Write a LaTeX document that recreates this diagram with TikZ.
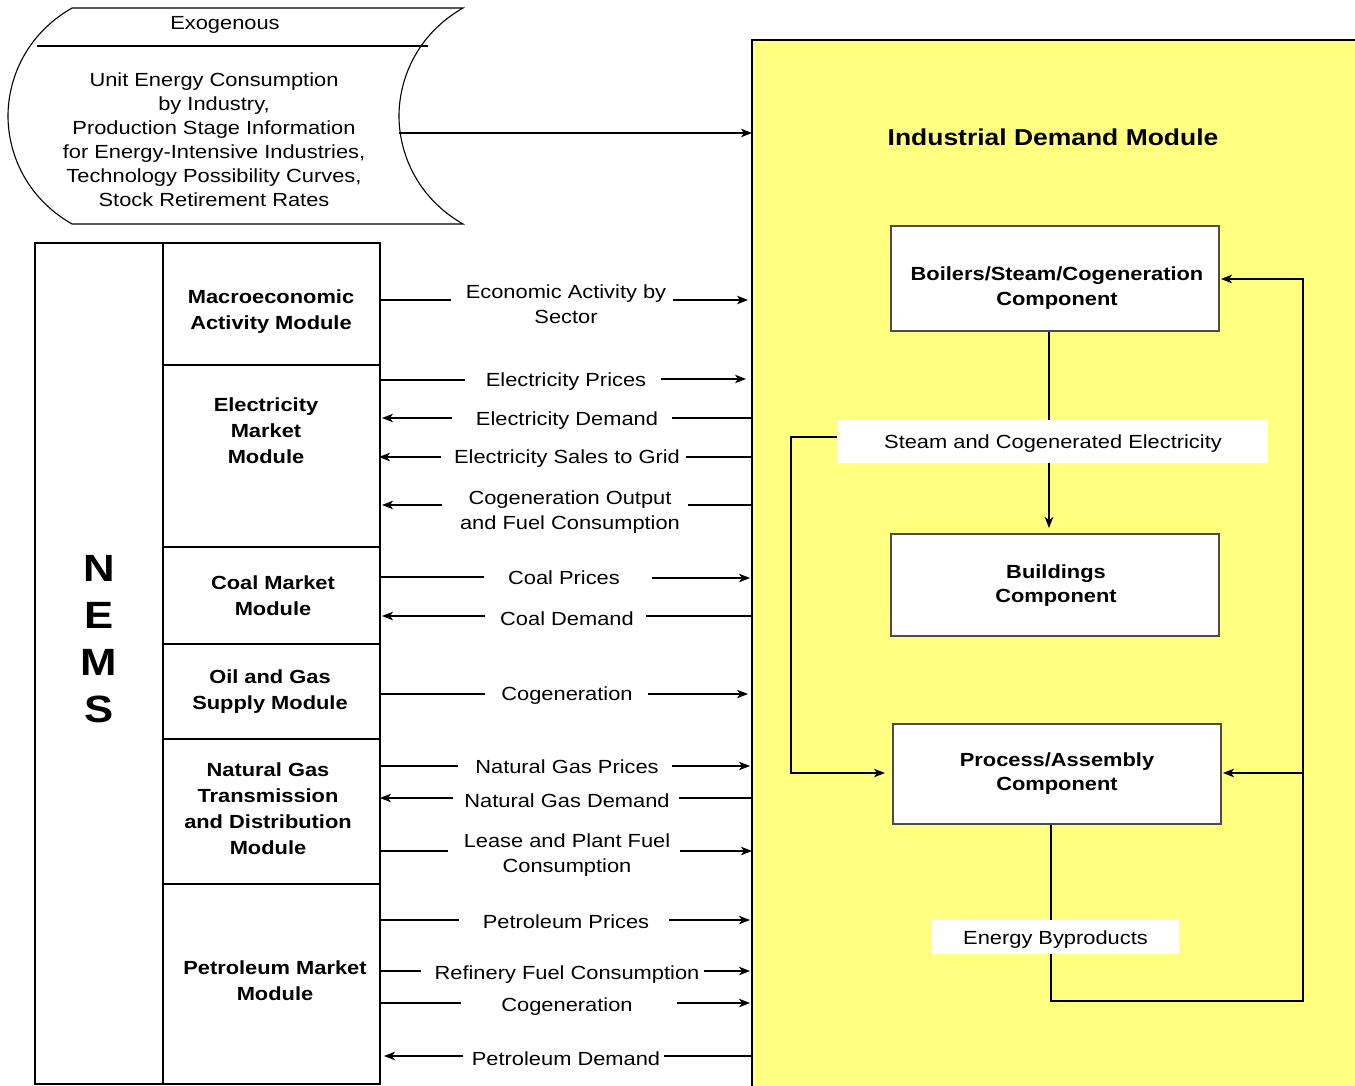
\documentclass[tikz,border=0pt]{standalone}
\usepackage{fontspec}
\setmainfont{Liberation Sans}[FakeStretch=1.15]
\usetikzlibrary{arrows.meta}
\definecolor{ylw}{HTML}{FFFF80}
\begin{document}
\begin{tikzpicture}[x=1pt,y=-1pt, line width=1.1pt,
  txt/.style={font=\fontsize{19}{25}\selectfont, align=center, inner sep=0pt, yshift=-2.5pt},
  btxt/.style={align=center, inner sep=0pt, yshift=-2pt, font=\fontsize{19}{26}\selectfont\bfseries},
  arr/.style={-{Stealth[length=11pt,width=8.5pt,inset=3pt]}},
  comp/.style={draw=black!70, fill=white, line width=1.1pt, inner sep=0pt},
  lbl/.style={fill=white, inner sep=0pt}]
\useasboundingbox (0,0) rectangle (1355,1086);

% industrial demand module background
\fill[ylw] (752,40) rectangle (1355,1086);
\draw (752,1086) -- (752,40) -- (1355,40);
\node[font=\fontsize{23}{28}\selectfont\bfseries, inner sep=0pt] (idm) at (1053,137) {Industrial Demand Module};

% exogenous stored-data shape
\draw (72,8) -- (463,8) .. controls (416,35) and (399,80) .. (399,116)
  .. controls (399,152) and (416,197) .. (463,224) -- (72,224)
  .. controls (25,197) and (8,152) .. (8,116)
  .. controls (8,80) and (25,35) .. (72,8) -- cycle;
\draw (37,46) -- (428,46);
\node[txt] (exotitle) at (225,22) {Exogenous};
\node[align=center, inner sep=0pt, yshift=-2.5pt, font=\fontsize{19}{24}\selectfont] (exotext) at (214,137)
  {Unit Energy Consumption\\by Industry,\\Production Stage Information\\for Energy-Intensive Industries,\\Technology Possibility Curves,\\Stock Retirement Rates};
\coordinate (exoR) at (399,133);
\coordinate (indL) at (752,133);
\draw[arr] (exoR) -- (indL);

% NEMS block
\draw (35,243) rectangle (380,1084);
\draw (163,243) -- (163,1084);
\foreach \y in {365,547,644,739,884} \draw (163,\y) -- (380,\y);
\node[font=\fontsize{38}{47}\selectfont\bfseries, align=center, inner sep=0pt] (nems) at (99,639) {N\\E\\M\\S};

\node[btxt] (mac) at (271,310) {Macroeconomic\\Activity Module};
\node[btxt] (emm) at (266,429) {Electricity\\Market\\Module};
\node[btxt] (cmm) at (273,594) {Coal Market\\Module};
\node[btxt] (ogs) at (270,690) {Oil and Gas\\Supply Module};
\node[btxt] (ngt) at (268,807) {Natural Gas\\Transmission\\and Distribution\\Module};
\node[btxt] (pmm) at (275,979) {Petroleum Market\\Module};

% flows
\node[txt] (f1) at (566,302) {Economic Activity by\\Sector};
\draw (380,300) -- (451,300); \draw[arr] (673,300) -- (748,300);
\node[txt] (f2) at (566,379) {Electricity Prices};
\draw (380,380) -- (465,380); \draw[arr] (661,379) -- (746,379);
\node[txt] (f3) at (567,418) {Electricity Demand};
\draw[arr] (452,418) -- (382,418); \draw (672,418) -- (751,418);
\node[txt] (f4) at (567,456) {Electricity Sales to Grid};
\draw[arr] (441,457) -- (379,457); \draw (686,457) -- (751,457);
\node[txt] (f5) at (570,510) {Cogeneration Output\\and Fuel Consumption};
\draw[arr] (442,505) -- (382,505); \draw (688,505) -- (751,505);
\node[txt] (f6) at (564,575) {Coal Prices};
\draw (381,577) -- (484,577); \draw[arr] (652,578) -- (750,578);
\node[txt] (f7) at (567,616) {Coal Demand};
\draw[arr] (485,616) -- (382,616); \draw (646,616) -- (751,616);
\node[txt] (f8) at (567,693) {Cogeneration};
\draw (381,694) -- (485,694); \draw[arr] (648,694) -- (748,694);
\node[txt] (f9) at (567,764) {Natural Gas Prices};
\draw (381,766) -- (458,766); \draw[arr] (672,766) -- (750,766);
\node[txt] (f10) at (567,798) {Natural Gas Demand};
\draw[arr] (453,798) -- (380,798); \draw (679,798) -- (751,798);
\node[txt] (f11) at (567,853) {Lease and Plant Fuel\\Consumption};
\draw (381,851) -- (448,851); \draw[arr] (680,851) -- (752,851);
\node[txt] (f12) at (566,919) {Petroleum Prices};
\draw (381,920) -- (459,920); \draw[arr] (669,920) -- (750,920);
\node[txt] (f13) at (567,972) {Refinery Fuel Consumption};
\draw (380,971) -- (421,971); \draw[arr] (704,971) -- (750,971);
\node[txt] (f14) at (567,1004) {Cogeneration};
\draw (380,1003) -- (461,1003); \draw[arr] (677,1003) -- (750,1003);
\node[txt] (f15) at (566,1056) {Petroleum Demand};
\draw[arr] (463,1056) -- (384,1056); \draw (664,1056) -- (751,1056);

% components
\node[comp, minimum width=328pt, minimum height=105pt] (boil) at (1055,278.5) {};
\node[btxt, font=\fontsize{19}{25}\selectfont\bfseries] (boilt) at (1057,286) {Boilers/Steam/Cogeneration\\Component};
\node[comp, minimum width=328pt, minimum height=102pt] (bldg) at (1055,585) {};
\node[btxt, font=\fontsize{19}{24}\selectfont\bfseries] (bldgt) at (1056,584) {Buildings\\Component};
\node[comp, minimum width=328pt, minimum height=100pt] (proc) at (1057,774) {};
\node[btxt, font=\fontsize{19}{24}\selectfont\bfseries] (proct) at (1057,772) {Process/Assembly\\Component};

% internal flows
\draw[arr] (boil.south -| 1049,0) -- (1049,528);
\node[lbl, minimum width=430pt, minimum height=43pt] (steam) at (1053,441.5) {};
\node[txt] (steamt) at (1053,441.5) {Steam and Cogenerated Electricity};
\draw[arr] (steam.west |- 0,437) -- (791,437) -- (791,773) -- (885,773);
\draw[arr] (proc.south -| 1051,0) -- (1051,1001) -- (1303,1001) -- (1303,279) -- (1221,279);
\draw[arr] (1303,773) -- (1223,773);
\node[lbl, minimum width=247pt, minimum height=34pt] (byp) at (1055.5,937) {};
\node[txt] (bypt) at (1055.5,937) {Energy Byproducts};
\end{tikzpicture}
\end{document}
